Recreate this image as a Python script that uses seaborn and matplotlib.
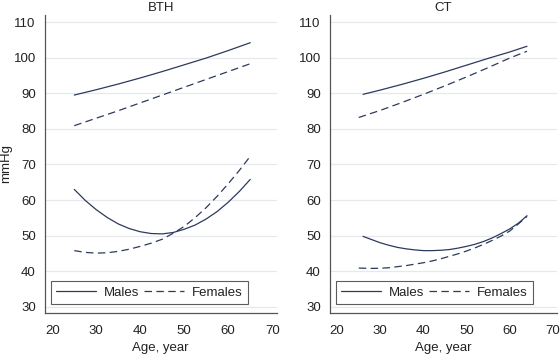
import matplotlib
matplotlib.use("Agg")
import matplotlib.pyplot as plt
import seaborn as sns
from matplotlib.lines import Line2D

# Дані
panel_titles = ["BTH", "CT"]

# BTH
bth_up_age = [25, 30, 35, 40, 45, 50, 55, 60, 65]
bth_up_males = [89.5, 91.0, 92.6, 94.3, 96.1, 98.0, 99.9, 102.0, 104.2]
bth_up_females = [80.9, 83.0, 85.1, 87.3, 89.5, 91.7, 93.9, 96.1, 98.3]

bth_low_age = [25, 27.5, 30, 32.5, 35, 37.5, 40, 42.5, 45, 47.5, 50, 52.5, 55, 57.5, 60, 62.5, 65]
bth_low_males = [63.0, 59.9, 57.3, 55.1, 53.3, 52.0, 51.1, 50.6, 50.5, 50.9, 51.8, 53.0, 54.7, 56.8, 59.4, 62.4, 65.8]
bth_low_females = [45.8, 45.3, 45.1, 45.2, 45.6, 46.2, 47.0, 47.9, 49.0, 50.7, 52.6, 55.1, 57.9, 61.1, 64.6, 68.3, 72.3]

# CT
ct_up_males_age = [26, 30, 35, 40, 45, 50, 55, 60, 64]
ct_up_males = [89.7, 90.9, 92.5, 94.2, 96.0, 97.9, 99.8, 101.6, 103.2]
ct_up_females_age = [25, 30, 35, 40, 45, 50, 55, 60, 64]
ct_up_females = [83.2, 85.2, 87.4, 89.7, 92.1, 94.6, 97.2, 99.9, 101.8]

ct_low_males_age = [26, 28, 30, 32, 34, 36, 38, 40, 42, 44, 46, 48, 50, 52, 54, 56, 58, 60, 62, 64]
ct_low_males = [49.8, 48.9, 48.0, 47.3, 46.7, 46.3, 46.0, 45.8, 45.8, 45.9, 46.1, 46.5, 47.0, 47.6, 48.4, 49.4, 50.6, 51.9, 53.5, 55.6]
ct_low_females_age = [25, 28, 30, 32, 34, 36, 38, 40, 42, 44, 46, 48, 50, 52, 54, 56, 58, 60, 62, 64]
ct_low_females = [40.9, 40.8, 40.85, 41.0, 41.3, 41.6, 42.0, 42.4, 42.9, 43.5, 44.2, 44.9, 45.7, 46.6, 47.6, 48.7, 49.9, 51.3, 53.3, 55.4]

x_ticks = [20, 30, 40, 50, 60, 70]
y_ticks = [30, 40, 50, 60, 70, 80, 90, 100, 110]

LINE_COLOR = "#2c3a5c"
TEXT_COLOR = "#222222"
DASHES = (6, 3.5)
FS = 9.5

sns.set_style("white")
plt.rcParams['font.family'] = ['Liberation Sans', 'DejaVu Sans']

fig = plt.figure(figsize=(5.6, 3.56), dpi=100)
ax1 = fig.add_axes([0.080, 0.121, 0.414, 0.837])
ax2 = fig.add_axes([0.589, 0.121, 0.406, 0.837])

panels = [
    (ax1, [(bth_up_age, bth_up_males), (bth_low_age, bth_low_males)],
     [(bth_up_age, bth_up_females), (bth_low_age, bth_low_females)]),
    (ax2, [(ct_up_males_age, ct_up_males), (ct_low_males_age, ct_low_males)],
     [(ct_up_females_age, ct_up_females), (ct_low_females_age, ct_low_females)]),
]

for (ax, males, females), title in zip(panels, panel_titles):
    for xs, ys in males:
        sns.lineplot(x=xs, y=ys, ax=ax, color=LINE_COLOR, linewidth=0.9)
    for xs, ys in females:
        sns.lineplot(x=xs, y=ys, ax=ax, color=LINE_COLOR, linewidth=0.9,
                     linestyle=(0, DASHES))

    ax.set_xlim(18.3, 71)
    ax.set_ylim(28.3, 112)
    ax.set_xticks(x_ticks)
    ax.set_yticks(y_ticks)
    ax.yaxis.grid(True, color="#e6e8eb", linewidth=0.9)
    ax.xaxis.grid(False)
    ax.set_axisbelow(True)
    for side in ["top", "right"]:
        ax.spines[side].set_visible(False)
    for side in ["left", "bottom"]:
        ax.spines[side].set_color("#555555")
        ax.spines[side].set_linewidth(0.9)
    ax.tick_params(axis="both", direction="out", length=4.5, width=0.8,
                   color="#555555", labelsize=FS, labelcolor=TEXT_COLOR)
    ax.tick_params(axis="x", pad=4)
    ax.tick_params(axis="y", pad=2)
    ax.set_title(title, fontsize=FS, color=TEXT_COLOR, pad=3)
    ax.set_xlabel("Age, year", fontsize=FS, color=TEXT_COLOR, labelpad=4)
    ax.set_ylabel("")

    handles = [Line2D([], [], color=LINE_COLOR, linewidth=0.9),
               Line2D([], [], color=LINE_COLOR, linewidth=0.9, linestyle=(0, DASHES))]
    leg = ax.legend(handles, ["Males", "Females"], ncol=2, loc="lower left",
                    bbox_to_anchor=(0.026, 0.03), fontsize=FS, frameon=True,
                    fancybox=False, handlelength=3.0, handletextpad=0.6,
                    columnspacing=0.4, borderpad=0.4, borderaxespad=0)
    leg.get_frame().set_edgecolor("#333333")
    leg.get_frame().set_linewidth(0.8)
    for t in leg.get_texts():
        t.set_color(TEXT_COLOR)

ax1.set_ylabel("mmHg", fontsize=FS, color=TEXT_COLOR)
ax1.yaxis.set_label_coords(-0.142, 0.5)

fig.savefig("out.png", dpi=100)
